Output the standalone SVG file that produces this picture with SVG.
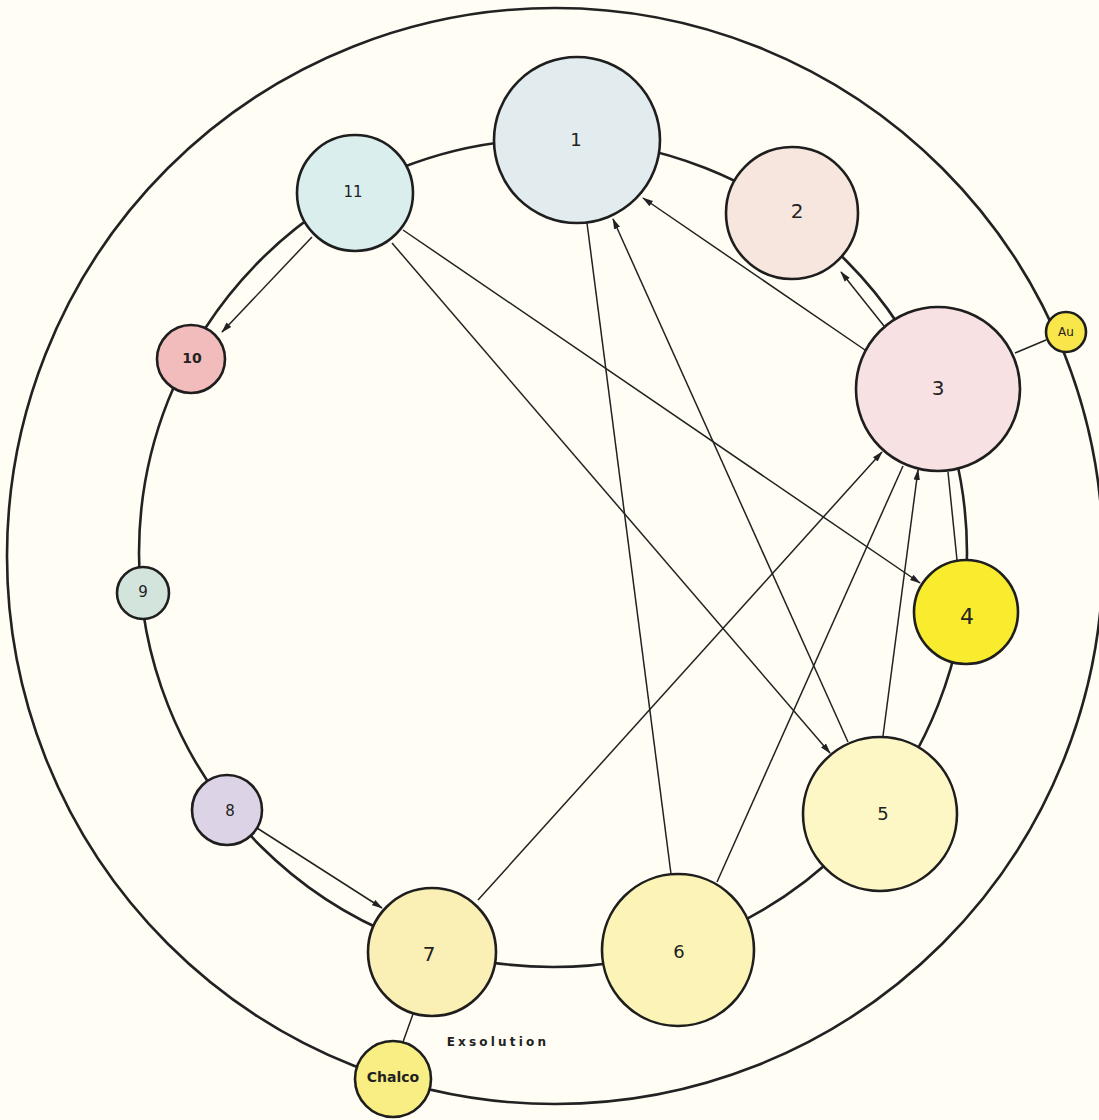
<svg xmlns="http://www.w3.org/2000/svg" width="1099" height="1120" viewBox="0 0 1099 1120">
<defs>
<marker id="ah" markerUnits="userSpaceOnUse" markerWidth="11" markerHeight="8" refX="10" refY="4" orient="auto">
<path d="M0,0.8 L11,4 L0,7.2 Z" fill="#222"/>
</marker>
<style>
.ring{fill:none;stroke:#222;stroke-width:2.6}
.ln{fill:none;stroke:#222;stroke-width:1.5}
.arr{fill:none;stroke:#222;stroke-width:1.5;marker-end:url(#ah)}
.node circle{stroke:#1e1e1e;stroke-width:2.6}
.lbl{font-family:"DejaVu Sans","Liberation Sans",sans-serif;fill:#222;text-anchor:middle;dominant-baseline:central}
</style>
</defs>
<rect width="1099" height="1120" fill="#fffdf4"/>
<g id="connectors">
<circle class="ring" cx="555" cy="556" r="548"/>
<circle class="ring" cx="553" cy="553" r="414"/>
<line class="arr" x1="403" y1="230" x2="920" y2="583"/>
<line class="arr" x1="392" y1="243" x2="830" y2="753"/>
<line class="arr" x1="865" y1="350" x2="643" y2="198"/>
<line class="arr" x1="848" y1="742" x2="613" y2="219"/>
<line class="ln" x1="671" y1="874" x2="587" y2="223"/>
<line class="arr" x1="478" y1="900" x2="882" y2="452"/>
<line class="ln" x1="717" y1="882" x2="903" y2="466"/>
<line class="arr" x1="883" y1="736" x2="918" y2="470"/>
<line class="ln" x1="948" y1="472" x2="957" y2="560"/>
<line class="ln" x1="1015" y1="353" x2="1046" y2="340"/>
<line class="ln" x1="413" y1="1014" x2="403" y2="1042"/>
<line class="arr" x1="884" y1="326" x2="841" y2="272"/>
<line class="arr" x1="312" y1="237" x2="222" y2="332"/>
<line class="arr" x1="257" y1="828" x2="382" y2="908"/>
</g>
<g id="n1" class="node"><circle cx="577" cy="140" r="83" fill="#e2ebee"/><text class="lbl" x="576" y="139" font-size="18">1</text></g>
<g id="n2" class="node"><circle cx="792" cy="213" r="66" fill="#f7e6de"/><text class="lbl" x="797" y="211" font-size="20">2</text></g>
<g id="n3" class="node"><circle cx="938" cy="389" r="82" fill="#f8e1e2"/><text class="lbl" x="938" y="388" font-size="20">3</text></g>
<g id="n4" class="node"><circle cx="966" cy="612" r="52" fill="#f9ec2e"/><text class="lbl" x="967" y="616" font-size="22">4</text></g>
<g id="n5" class="node"><circle cx="880" cy="814" r="77" fill="#fcf7c4"/><text class="lbl" x="883" y="813" font-size="18">5</text></g>
<g id="n6" class="node"><circle cx="678" cy="950" r="76" fill="#fbf4b6"/><text class="lbl" x="679" y="951" font-size="18">6</text></g>
<g id="n7" class="node"><circle cx="432" cy="952" r="64" fill="#faefb4"/><text class="lbl" x="429" y="954" font-size="20">7</text></g>
<g id="n8" class="node"><circle cx="227" cy="810" r="35" fill="#ddd3e6"/><text class="lbl" x="230" y="811" font-size="15">8</text></g>
<g id="n9" class="node"><circle cx="143" cy="593" r="26" fill="#d3e4dc"/><text class="lbl" x="143" y="592" font-size="15">9</text></g>
<g id="n10" class="node"><circle cx="191" cy="359" r="34" fill="#f2bcbc"/><text class="lbl" x="192" y="358" font-size="14" font-weight="bold">10</text></g>
<g id="n11" class="node"><circle cx="355" cy="193" r="58" fill="#daeeee"/><text class="lbl" x="353" y="192" font-size="15">11</text></g>
<g id="au" class="node"><circle cx="1066" cy="332" r="20" fill="#f8e64a"/><text class="lbl" x="1066" y="332" font-size="12">Au</text></g>
<g id="chalco" class="node"><circle cx="393" cy="1079" r="38" fill="#f8ee84"/><text class="lbl" x="393" y="1077" font-size="14" font-weight="bold">Chalco</text></g>
<text class="lbl" x="498" y="1042" font-size="12" letter-spacing="3.2" font-weight="bold">Exsolution</text>
</svg>
